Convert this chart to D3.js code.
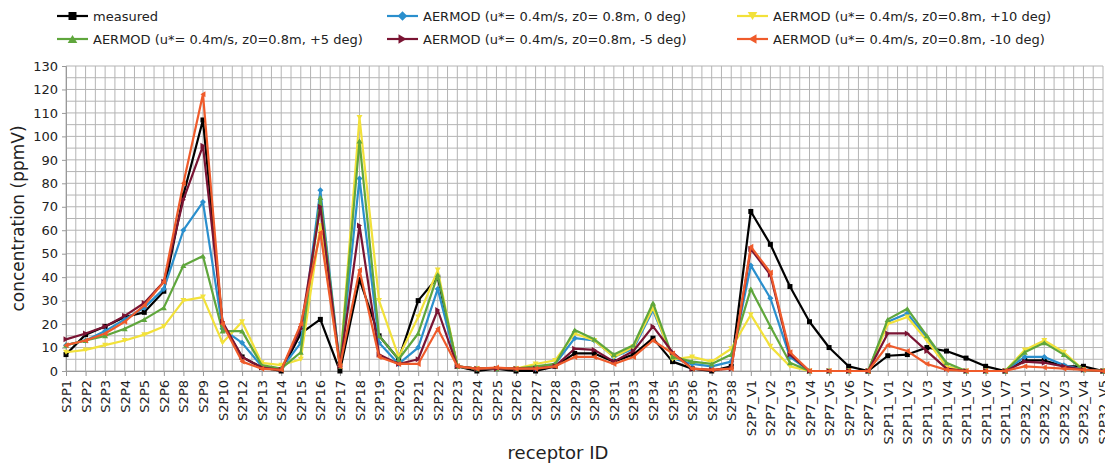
<!DOCTYPE html>
<html><head><meta charset="utf-8">
<script src="https://cdn.jsdelivr.net/npm/d3@7"></script>
<style>
html,body{margin:0;padding:0;background:#fff;}
svg{display:block;font-family:"DejaVu Sans",sans-serif;}
</style></head>
<body><svg id="c" width="1105" height="464"></svg>
<script>
const categories = ["S2P1","S2P2","S2P3","S2P4","S2P5","S2P6","S2P8","S2P9","S2P10","S2P12","S2P13","S2P14","S2P15","S2P16","S2P17","S2P18","S2P19","S2P20","S2P21","S2P22","S2P23","S2P24","S2P25","S2P26","S2P27","S2P28","S2P29","S2P30","S2P31","S2P33","S2P34","S2P35","S2P36","S2P37","S2P38","S2P7_V1","S2P7_V2","S2P7_V3","S2P7_V4","S2P7_V5","S2P7_V6","S2P7_V7","S2P11_V1","S2P11_V2","S2P11_V3","S2P11_V4","S2P11_V5","S2P11_V6","S2P11_V7","S2P32_V1","S2P32_V2","S2P32_V3","S2P32_V4","S2P32_V5"];

const measured = [7,15.5,19,23,25,34,75,107,20,6,1.5,0,16,22,0,39,15,5,30,40,2,0,1,0,0,2,7.5,7.5,4,7,14,4,1,0,2,68,54,36,21,10,2,0,6.5,7,10,8.5,5.5,2,0,4.5,4.5,2,2,0];
const aermod0 = [11,13,17,22,27,35,60,72,18,12,2,1,12,77,2,82,12,3,10,35,2,1,1,1,1,3,14,13,6,9.5,26,5.5,3,2,4,45,31,6,0,0,0,0,21,24.5,14,2,0,0,0,6,6,2.5,0.5,0];
const aermodP10 = [8,9,11,13,15.5,19,30,31.5,12,21,3.5,2.5,5,62,2,108,30,6,23,43,2,1,1,1,3,4.5,16,13,6,10.3,27,5,6,4,9.5,24,10.5,2,0,0,0,0,20,23,13,2,0,0,0,9,13,8,0.5,0];
const aermodP5 = [11,13,15,18,22,27,45,49,17,17,2.5,1,8,74,2,98,15,5,16,41,2,1,1,1,2,3,17.5,13.5,7,11,29,6,4,3,7,35,19,3.5,0,0,0,0,22,26.5,15,3.5,0,0,0,8,12,7,0.5,0];
const aermodM5 = [13.5,16,19,23.5,29,38,73,96,21,6,1.5,0.5,18,70,2,62,7,3,5,26,2,1,1,1,1,2,9.5,9,4,8.5,19,8,1,0.5,1,52,41,7,0,0,0,0,16,16,8.5,1,0,0,0,4,3.5,2,0.5,0];
const aermodM10 = [11,13,16,21,28,38,80,118,20,4,1,0.5,20,59,2,43,6,3,3,18,2,1,1.5,1,1,2,6,6,3,6,13,7.5,1,0.5,1,53,42,8,0,0,0,0,11,8.5,3,0.5,0,0,0,2,1.5,1,0.5,0];

const seriesNames = ["measured","AERMOD (u*= 0.4m/s, z0= 0.8m, 0 deg)","AERMOD (u*= 0.4m/s, z0=0.8m, +10 deg)","AERMOD (u*= 0.4m/s, z0=0.8m, +5 deg)","AERMOD (u*= 0.4m/s, z0=0.8m, -5 deg)","AERMOD (u*= 0.4m/s, z0=0.8m, -10 deg)"];
const yTicks = [0,10,20,30,40,50,60,70,80,90,100,110,120,130];
const yTitle = "concentration (ppmV)";
const xTitle = "receptor ID";

const colors = ["#000000","#2a8fcd","#f2e13a","#5fa63c","#7a1433","#ef5b2b"];
const markerTypes = ["square","diamond","down","up","right","left"];
const seriesData = [measured, aermod0, aermodP10, aermodP5, aermodM5, aermodM10];

const svg = d3.select("#c");
const L = 66, R = 1103, T = 66, B = 371;
const x = d3.scalePoint().domain(categories).range([L, R]);
const y = d3.scaleLinear().domain([0,130]).range([B, T]);

// grid
const g = svg.append("g");
const step = x.step();
const vgrid = d3.range(0, categories.length*2 - 1).map(i => L + i*step/2);
g.selectAll("line.v").data(vgrid).enter().append("line")
  .attr("x1", d=>d).attr("x2", d=>d).attr("y1", T).attr("y2", B)
  .attr("stroke", "#b4b4b4").attr("stroke-width", 1);
g.selectAll("line.h").data(d3.range(0,131,5)).enter().append("line")
  .attr("x1", L).attr("x2", R).attr("y1", d=>y(d)).attr("y2", d=>y(d))
  .attr("stroke", "#b4b4b4").attr("stroke-width", 1);

// axes
const yAxis = d3.axisLeft(y).tickValues(yTicks).tickSize(4).tickPadding(4);
const ya = svg.append("g").attr("transform", `translate(${L},0)`).call(yAxis);
ya.select(".domain").attr("stroke", "#999");
ya.selectAll(".tick line").attr("stroke", "#999");
ya.selectAll("text").attr("font-size", 13).attr("fill", "#222").attr("font-family","DejaVu Sans");

const xAxis = d3.axisBottom(x).tickSize(5).tickPadding(4);
const xa = svg.append("g").attr("transform", `translate(0,${B})`).call(xAxis);
xa.select(".domain").attr("stroke", "#999");
xa.selectAll(".tick line").attr("stroke", "#999");
xa.selectAll("text").attr("font-size", 13).attr("fill", "#222").attr("font-family","DejaVu Sans")
  .attr("transform", "rotate(-90)").attr("text-anchor", "end")
  .attr("x", -9).attr("y", 0).attr("dy", "0.35em");

svg.append("text").attr("transform", `translate(24,${(T+B)/2}) rotate(-90)`)
  .attr("text-anchor","middle").attr("font-size",17).attr("fill","#222").text(yTitle);
svg.append("text").attr("x", 558).attr("y", 459)
  .attr("text-anchor","middle").attr("font-size",18).attr("fill","#222").text(xTitle);

function markerPath(type, s) {
  const h = s/2;
  switch(type){
    case "square": return `M${-h},${-h}H${h}V${h}H${-h}Z`;
    case "diamond": return `M0,${-h*1.2}L${h*1.2},0L0,${h*1.2}L${-h*1.2},0Z`;
    case "down": return `M${-h*1.2},${-h}L${h*1.2},${-h}L0,${h}Z`;
    case "up": return `M${-h*1.2},${h}L${h*1.2},${h}L0,${-h}Z`;
    case "right": return `M${-h},${-h*1.2}L${h},0L${-h},${h*1.2}Z`;
    case "left": return `M${h},${-h*1.2}L${-h},0L${h},${h*1.2}Z`;
  }
}

const line = d3.line().x((d,i)=>x(categories[i])).y(d=>y(d));
const drawOrder = [0,1,2,3,4,5];
drawOrder.forEach(si => {
  const sg = svg.append("g");
  sg.append("path").datum(seriesData[si]).attr("d", line)
    .attr("fill","none").attr("stroke", colors[si]).attr("stroke-width", 2.2)
    .attr("stroke-linejoin","round");
  sg.selectAll("path.m").data(seriesData[si]).enter().append("path")
    .attr("transform", (d,i)=>`translate(${x(categories[i])},${y(d)})`)
    .attr("d", markerPath(markerTypes[si], 5)).attr("fill", colors[si]);
});

// legend
const legendPos = [[57,16],[387,16],[737,16],[57,39],[387,39],[737,39]];
const legendOrder = [0,1,2,3,4,5];
legendOrder.forEach((si,k) => {
  const [lx, ly] = legendPos[k];
  const lg = svg.append("g").attr("transform", `translate(${lx},${ly})`);
  lg.append("line").attr("x1",0).attr("x2",31).attr("y1",0).attr("y2",0)
    .attr("stroke", colors[si]).attr("stroke-width", 2.2);
  lg.append("path").attr("transform","translate(15.5,0)").attr("d", markerPath(markerTypes[si], 8)).attr("fill", colors[si]);
  lg.append("text").attr("x", 36).attr("y", 0).attr("dy","0.35em")
    .attr("font-size", 13).attr("fill","#222").text(seriesNames[si]);
});
</script>
</body></html>
